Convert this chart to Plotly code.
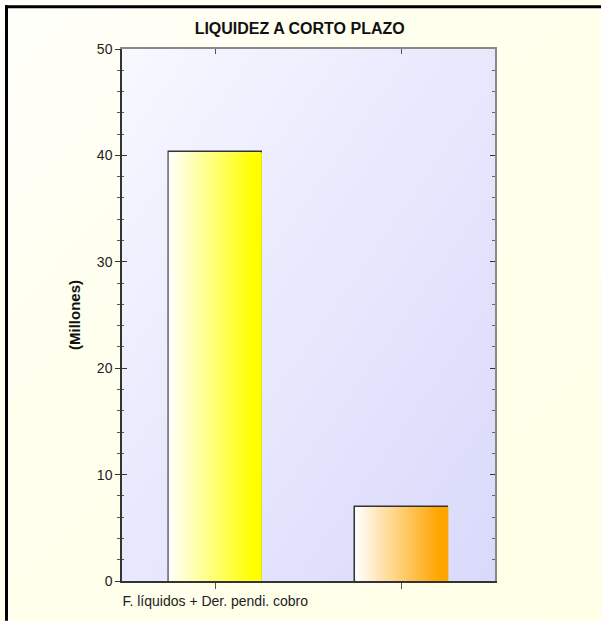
import base64
import plotly.graph_objects as go

# ---- data ----
categories = ["F. líquidos + Der. pendi. cobro", ""]
values = [40.3, 6.95]
bar_colors = ["#ffff00", "#ffa500"]
y_ticks = [0, 10, 20, 30, 40, 50]
title_text = "LIQUIDEZ A CORTO PLAZO"
y_title = "(Millones)"

BAR_W = 0.5
FONT = "Arial, Liberation Sans, sans-serif"

def svg_uri(c0, c1, c2):
    svg = (
        '<svg xmlns="http://www.w3.org/2000/svg" width="100" height="100" '
        'viewBox="0 0 100 100" preserveAspectRatio="none">'
        '<defs><linearGradient id="g" x1="0" y1="0" x2="1" y2="1">'
        f'<stop offset="0" stop-color="{c0}"/>'
        f'<stop offset="0.35" stop-color="{c1}"/>'
        f'<stop offset="1" stop-color="{c2}"/>'
        '</linearGradient></defs>'
        '<rect width="100" height="100" fill="url(#g)"/></svg>'
    )
    return "data:image/svg+xml;base64," + base64.b64encode(svg.encode()).decode()

xs = list(range(len(categories)))

fig = go.Figure()

# gradient fills for bars
for i, (v, col) in enumerate(zip(values, bar_colors)):
    x0, x1 = xs[i] - BAR_W / 2, xs[i] + BAR_W / 2
    fig.add_trace(go.Scatter(
        x=[x0, x1, x1, x0, x0], y=[0, 0, v, v, 0],
        mode="lines", line=dict(width=0), fill="toself",
        fillgradient=dict(type="horizontal", start=x0, stop=x1,
                          colorscale=[[0, "#ffffff"], [0.9, col], [1, col]]),
        hoverinfo="skip", showlegend=False, xaxis="x", yaxis="y",
    ))

# bar outlines
fig.add_trace(go.Bar(
    x=xs, y=values, width=BAR_W,
    marker=dict(color="rgba(0,0,0,0)", line=dict(color="#333333", width=1.5)),
    showlegend=False, xaxis="x", yaxis="y",
))

L, R, T, B, W, H = 122, 106, 49, 38, 601, 621
pw, ph = W - L - R, H - T - B

def px_x(p):
    return (p - L) / pw

def px_y(p):
    return (H - B - p) / ph

axis_font = dict(family=FONT, size=14, color="#222222")

fig.update_layout(
    width=W, height=H,
    margin=dict(l=L, r=R, t=T, b=B, pad=0),
    paper_bgcolor="#ffffea",
    plot_bgcolor="rgba(0,0,0,0)",
    font=dict(family=FONT, size=14, color="#222222"),
    title=dict(text="<b>" + title_text + "</b>", x=px_x(308), xanchor="center",
               y=1 - 28 / H, yanchor="middle",
               font=dict(family=FONT, size=16, color="#111111")),
    xaxis=dict(range=[-0.5, len(categories) - 0.5], tickvals=xs, ticktext=categories,
               ticks="outside", ticklen=6, tickcolor="#555555", tickwidth=1,
               showline=True, linecolor="#333333", linewidth=1.5,
               showgrid=False, zeroline=False, tickfont=axis_font),
    xaxis2=dict(overlaying="x", side="top", matches="x", tickvals=xs,
                ticks="inside", ticklen=5, tickcolor="#555555", showticklabels=False,
                showline=True, linecolor="#888888", linewidth=1.5,
                showgrid=False, zeroline=False),
    yaxis=dict(range=[0, 50], tickvals=y_ticks, ticks="outside", ticklen=5,
               tickcolor="#333333", tickwidth=1,
               minor=dict(dtick=2, ticks="outside", ticklen=3, tickcolor="#555555"),
               showline=True, linecolor="#333333", linewidth=1.5,
               showgrid=False, zeroline=False, tickfont=axis_font,
               title=dict(text="<b>" + y_title + "</b>",
                          font=dict(family=FONT, size=15, color="#111111"), standoff=13)),
    yaxis2=dict(overlaying="y", side="right", matches="y", tickvals=y_ticks,
                ticks="inside", ticklen=5, tickcolor="#333333",
                minor=dict(dtick=2, ticks="inside", ticklen=3, tickcolor="#666666"),
                showticklabels=False, showline=True, linecolor="#888888", linewidth=1.5,
                showgrid=False, zeroline=False),
    yaxis3=dict(overlaying="y", side="left", matches="y", tickvals=y_ticks,
                ticks="inside", ticklen=5, tickcolor="#333333",
                minor=dict(dtick=2, ticks="inside", ticklen=2, tickcolor="#555555"),
                showticklabels=False, showline=False,
                showgrid=False, zeroline=False),
    images=[
        dict(source=svg_uri("#fffffb", "#ffffee", "#ffffe6"), xref="paper", yref="paper",
             x=px_x(0), y=px_y(0), sizex=W / pw, sizey=H / ph,
             xanchor="left", yanchor="top", sizing="stretch", layer="below"),
        dict(source=svg_uri("#f8f8ff", "#ececfe", "#d9d9fb"), xref="paper", yref="paper",
             x=0, y=1, sizex=1, sizey=1,
             xanchor="left", yanchor="top", sizing="stretch", layer="below"),
    ],
    shapes=[
        dict(type="line", xref="paper", yref="paper",
             x0=px_x(6.5), x1=px_x(6.5), y0=px_y(H + 2), y1=px_y(5),
             line=dict(color="#000000", width=3)),
        dict(type="line", xref="paper", yref="paper",
             x0=px_x(5), x1=px_x(W + 2), y0=px_y(6.5), y1=px_y(6.5),
             line=dict(color="#000000", width=3)),
    ],
    bargap=0,
)

# dummy traces to activate secondary axes
fig.add_trace(go.Scatter(x=[0], y=[0], xaxis="x2", yaxis="y2", mode="markers",
                         marker=dict(opacity=0), hoverinfo="skip", showlegend=False))
fig.add_trace(go.Scatter(x=[0], y=[0], xaxis="x", yaxis="y3", mode="markers",
                         marker=dict(opacity=0), hoverinfo="skip", showlegend=False))

fig.write_html(
    "out.html",
    config={"displayModeBar": False},
    post_script="document.body.style.margin='0';document.body.style.overflow='hidden';",
)
